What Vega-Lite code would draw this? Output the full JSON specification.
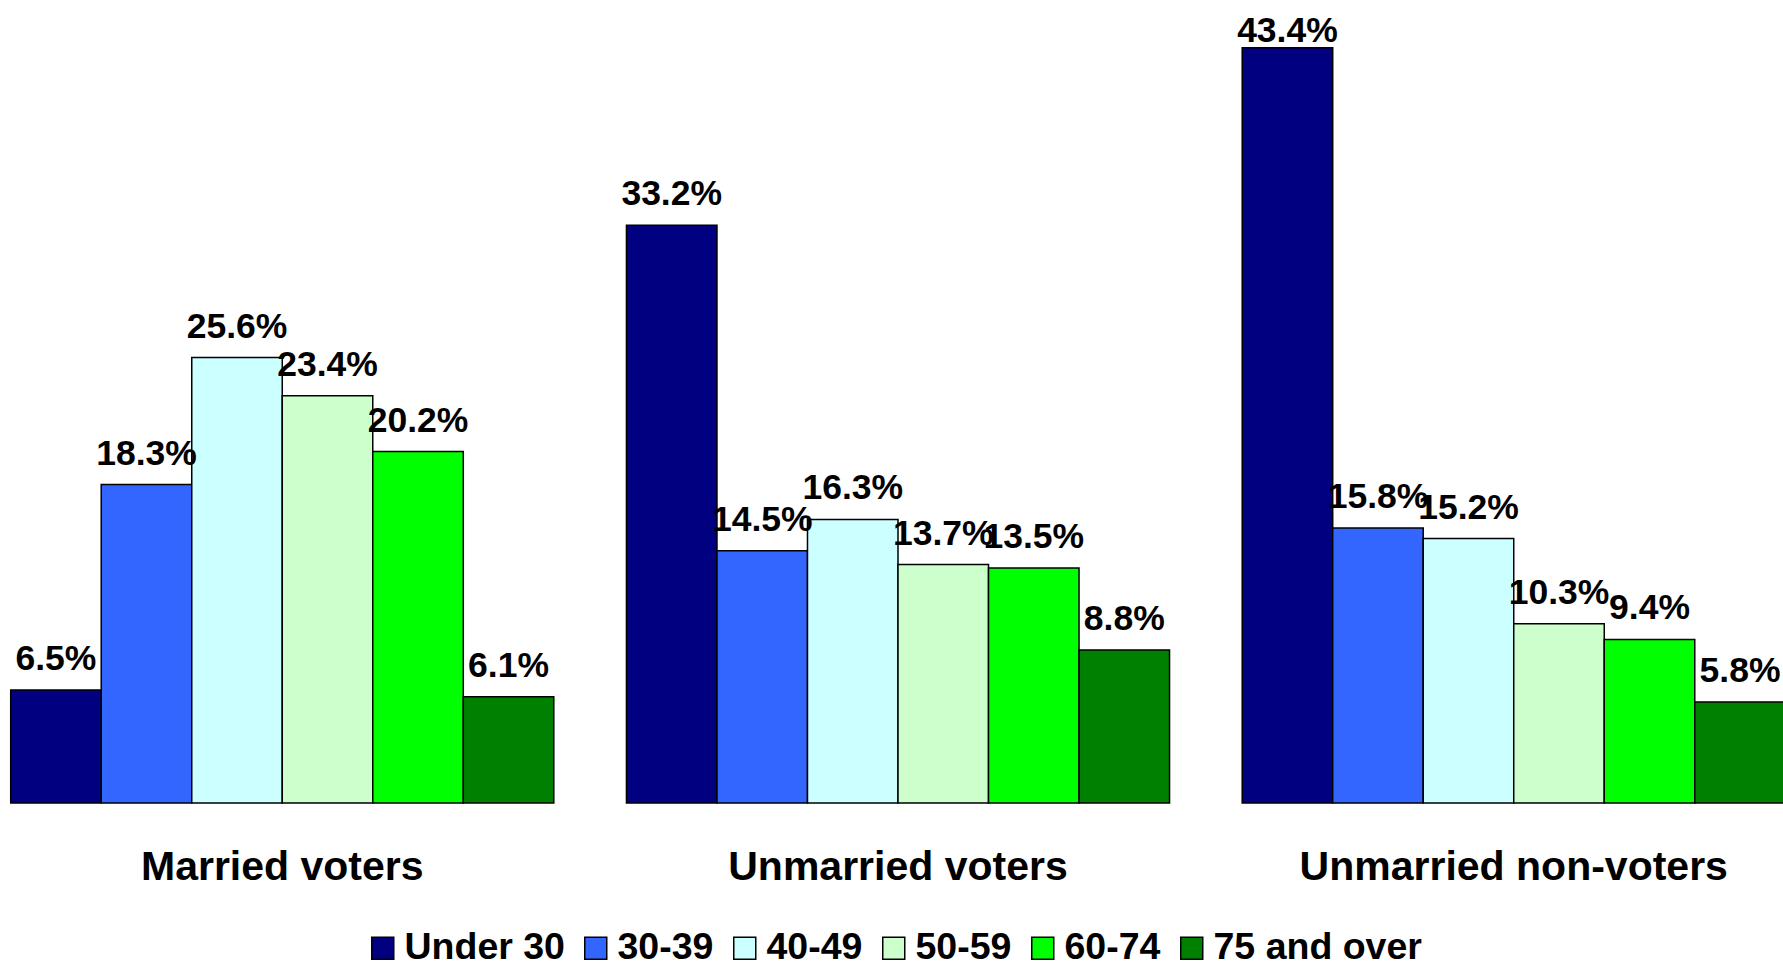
{
  "$schema": "https://vega.github.io/schema/vega-lite/v6.json",
  "autosize": {"type": "none"},
  "width": 1783,
  "height": 803,
  "padding": {"left": 0, "top": 0, "right": 0, "bottom": 158},
  "background": "white",
  "config": {
    "view": {"stroke": null},
    "font": "Liberation Sans"
  },
  "data": {
    "values": [
      {"group": "Married voters", "age": "Under 30", "value": 6.5, "label": "6.5%"},
      {"group": "Married voters", "age": "30-39", "value": 18.3, "label": "18.3%"},
      {"group": "Married voters", "age": "40-49", "value": 25.6, "label": "25.6%"},
      {"group": "Married voters", "age": "50-59", "value": 23.4, "label": "23.4%"},
      {"group": "Married voters", "age": "60-74", "value": 20.2, "label": "20.2%"},
      {"group": "Married voters", "age": "75 and over", "value": 6.1, "label": "6.1%"},
      {"group": "Unmarried voters", "age": "Under 30", "value": 33.2, "label": "33.2%"},
      {"group": "Unmarried voters", "age": "30-39", "value": 14.5, "label": "14.5%"},
      {"group": "Unmarried voters", "age": "40-49", "value": 16.3, "label": "16.3%"},
      {"group": "Unmarried voters", "age": "50-59", "value": 13.7, "label": "13.7%"},
      {"group": "Unmarried voters", "age": "60-74", "value": 13.5, "label": "13.5%"},
      {"group": "Unmarried voters", "age": "75 and over", "value": 8.8, "label": "8.8%"},
      {"group": "Unmarried non-voters", "age": "Under 30", "value": 43.4, "label": "43.4%"},
      {"group": "Unmarried non-voters", "age": "30-39", "value": 15.8, "label": "15.8%"},
      {"group": "Unmarried non-voters", "age": "40-49", "value": 15.2, "label": "15.2%"},
      {"group": "Unmarried non-voters", "age": "50-59", "value": 10.3, "label": "10.3%"},
      {"group": "Unmarried non-voters", "age": "60-74", "value": 9.4, "label": "9.4%"},
      {"group": "Unmarried non-voters", "age": "75 and over", "value": 5.8, "label": "5.8%"}
    ]
  },
  "encoding": {
    "x": {
      "field": "group",
      "type": "nominal",
      "sort": ["Married voters", "Unmarried voters", "Unmarried non-voters"],
      "scale": {"range": [0, 1796], "paddingInner": 0.118, "paddingOuter": 0.0174},
      "axis": {
        "title": null,
        "domain": false,
        "ticks": false,
        "tickSize": 0,
        "labelAngle": 0,
        "labelFont": "Liberation Sans",
        "labelFontWeight": "bold",
        "labelFontSize": 41,
        "labelColor": "black",
        "labelBaseline": "alphabetic",
        "labelPadding": 76,
        "labelLimit": 0,
        "labelOverlap": false
      }
    },
    "xOffset": {
      "field": "age",
      "type": "nominal",
      "sort": ["Under 30", "30-39", "40-49", "50-59", "60-74", "75 and over"],
      "scale": {"paddingInner": 0, "paddingOuter": 0}
    }
  },
  "layer": [
    {
      "mark": {"type": "bar", "stroke": "black", "strokeWidth": 1.5},
      "encoding": {
        "y": {
          "field": "value",
          "type": "quantitative",
          "scale": {"domain": [0, 46.15], "nice": false, "zero": true},
          "axis": null
        },
        "color": {
          "field": "age",
          "type": "nominal",
          "sort": ["Under 30", "30-39", "40-49", "50-59", "60-74", "75 and over"],
          "scale": {
            "domain": ["Under 30", "30-39", "40-49", "50-59", "60-74", "75 and over"],
            "range": ["#000080", "#3366FF", "#CCFFFF", "#CCFFCC", "#00FF00", "#008000"]
          },
          "legend": {
            "title": null,
            "orient": "none",
            "direction": "horizontal",
            "columns": 6,
            "legendX": 364,
            "legendY": 929,
            "padding": 0,
            "symbolType": "square",
            "symbolSize": 484,
            "symbolStrokeColor": "black",
            "symbolStrokeWidth": 1.5,
            "symbolOpacity": 1,
            "labelFont": "Liberation Sans",
            "labelFontWeight": "bold",
            "labelFontSize": 37.5,
            "labelColor": "black",
            "labelOffset": 3,
            "labelLimit": 400,
            "columnPadding": 12
          }
        }
      }
    },
    {
      "mark": {
        "type": "text",
        "font": "Liberation Sans",
        "fontWeight": "bold",
        "fontSize": 35.5,
        "color": "black",
        "baseline": "alphabetic",
        "align": "center",
        "dy": -20
      },
      "encoding": {
        "y": {
          "field": "value",
          "type": "quantitative",
          "scale": {"domain": [0, 35, 43.4], "range": [803, 194, 62], "nice": false, "zero": false},
          "axis": null
        },
        "text": {"field": "label", "type": "nominal"}
      }
    }
  ],
  "resolve": {"scale": {"y": "independent"}}
}
